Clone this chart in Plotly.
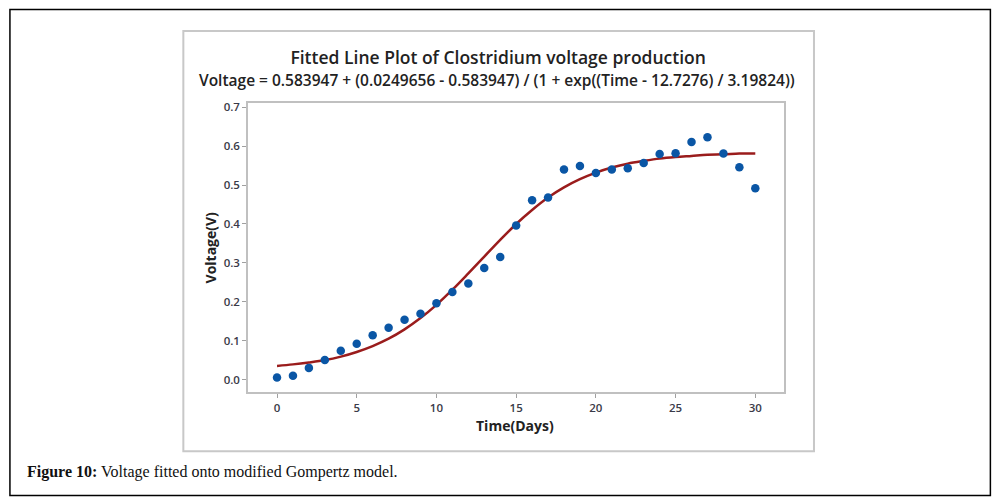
import plotly.graph_objects as go

# ---- data ----
days = list(range(0, 31))
voltage = [0.005, 0.010, 0.030, 0.050, 0.074, 0.092, 0.114, 0.133, 0.154, 0.169,
           0.196, 0.225, 0.247, 0.287, 0.315, 0.396, 0.461, 0.468, 0.540, 0.549,
           0.531, 0.540, 0.543, 0.557, 0.580, 0.582, 0.611, 0.623, 0.581, 0.546,
           0.492]
fit_days = list(range(0, 31))
fit_voltage = [0.035, 0.039, 0.044, 0.050, 0.059, 0.071, 0.086, 0.105, 0.129, 0.158,
               0.192, 0.231, 0.273, 0.316, 0.359, 0.400, 0.436, 0.468, 0.494, 0.515,
               0.532, 0.545, 0.555, 0.562, 0.568, 0.572, 0.575, 0.578, 0.579, 0.581,
               0.581]
x_ticks = [0, 5, 10, 15, 20, 25, 30]
y_ticks = [0.0, 0.1, 0.2, 0.3, 0.4, 0.5, 0.6, 0.7]
y_tick_text = ["0.0", "0.1", "0.2", "0.3", "0.4", "0.5", "0.6", "0.7"]

title_text = "Fitted Line Plot of Clostridium voltage production"
subtitle_text = "Voltage = 0.583947 + (0.0249656 - 0.583947) / (1 + exp((Time - 12.7276) / 3.19824))"
x_title = "Time(Days)"
y_title = "Voltage(V)"
caption = "<b>Figure 10:</b> Voltage fitted onto modified Gompertz model."

# ---- layout geometry (window pixels; the page body adds an 8px offset) ----
OFF = 8
W, H = 1005 - OFF, 498 - OFF
PL, PR, PT, PB = 247.7, 784.0, 103.0, 391.7


def px(x):
    return (x - PL) / (PR - PL)


def py(y):
    return (PB - y) / (PB - PT)


UI = "Open Sans, Noto Sans, sans-serif"

fig = go.Figure()
fig.add_trace(go.Scatter(x=fit_days, y=fit_voltage, mode="lines",
                         line=dict(color="#9a1c1c", width=2.5, shape="spline"),
                         showlegend=False, hoverinfo="skip"))
fig.add_trace(go.Scatter(x=days, y=voltage, mode="markers",
                         marker=dict(color="#0a56a5", size=8.5),
                         showlegend=False))

fig.update_layout(
    width=W, height=H,
    margin=dict(l=PL - OFF, r=W - (PR - OFF), t=PT - OFF, b=H - (PB - OFF), pad=0),
    paper_bgcolor="white", plot_bgcolor="white",
    font=dict(family=UI, color="#333"),
    title=dict(text=title_text, x=px(498), xref="paper", xanchor="center",
               y=1 - (58 - OFF) / H, yref="container", yanchor="middle",
               font=dict(family=UI, size=17.5, color="#222", weight=600)),
)
tf = dict(family=UI, size=11.5, color="#3a3a48", weight=600)
fig.update_xaxes(range=[-1.82, 31.8], tickvals=x_ticks, ticks="outside", ticklen=4,
                 tickcolor="#a0a0a0", showgrid=False, zeroline=False,
                 showline=True, linecolor="#c0c0c0", linewidth=1.5, mirror=True,
                 tickfont=tf)
fig.update_yaxes(range=[-0.032, 0.711], tickvals=y_ticks, ticktext=y_tick_text,
                 ticks="outside", ticklen=4,
                 tickcolor="#a0a0a0", showgrid=False, zeroline=False,
                 showline=True, linecolor="#c0c0c0", linewidth=1.5, mirror=True,
                 tickfont=tf)

ann = [
    dict(text=subtitle_text, x=px(497), y=py(80),
         font=dict(family=UI, size=15.5, color="#222", weight=600)),
    dict(text="<b>" + x_title + "</b>", x=px(515), y=py(425),
         font=dict(family=UI, size=14, color="#222")),
    dict(text="<b>" + y_title + "</b>", x=px(210), y=py(247), textangle=-90,
         font=dict(family=UI, size=14, color="#222")),
    dict(text=caption, x=px(25), y=py(472), xanchor="left",
         font=dict(family="Liberation Serif, DejaVu Serif, serif", size=16, color="#111")),
]
for a in ann:
    a.setdefault("xanchor", "center")
    fig.add_annotation(xref="paper", yref="paper", yanchor="middle",
                       showarrow=False, **a)

# inner gray frame of the Minitab graph
fig.add_shape(type="rect", xref="paper", yref="paper",
              x0=px(183), x1=px(814), y0=py(451), y1=py(31),
              line=dict(color="#c8c8c8", width=2), layer="below")
# outer black border
fig.add_shape(type="rect", xref="paper", yref="paper",
              x0=px(9.5), x1=px(990.5), y0=py(495), y1=py(9.5),
              line=dict(color="#000", width=1.5), layer="below")

fig.write_html("out.html")
